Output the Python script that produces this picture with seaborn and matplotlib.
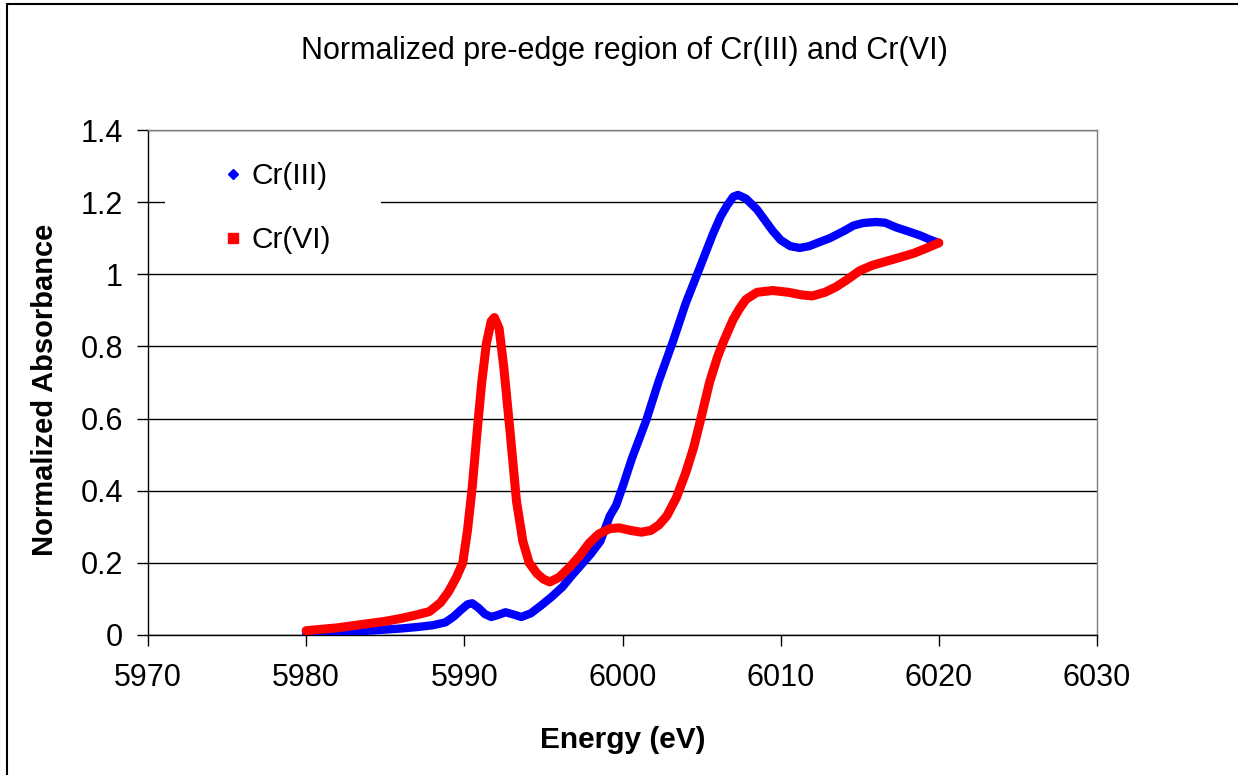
import numpy as np
import pandas as pd
import matplotlib
matplotlib.use("Agg")
import matplotlib.pyplot as plt
import seaborn as sns
from matplotlib.lines import Line2D
from matplotlib.patches import Rectangle
from matplotlib.ticker import FuncFormatter

# ---------------- data ----------------
energy_cr3 = [5980, 5982, 5984, 5985, 5986, 5987, 5988, 5988.8, 5989.3, 5989.8,
              5990.2, 5990.5, 5990.9, 5991.3, 5991.7, 5992.1, 5992.6, 5993.1, 5993.6, 5994.2,
              5994.8, 5995.5, 5996.2, 5996.8, 5997.3, 5998.0, 5998.6, 5999.2, 5999.6, 6000.0,
              6000.6, 6001.5, 6002.3, 6003.2, 6004.0, 6004.9, 6005.7, 6006.2, 6006.6, 6007.0,
              6007.3, 6007.8, 6008.5, 6009.0, 6009.5, 6010.0, 6010.6, 6011.2, 6011.8, 6012.5,
              6013.1, 6014.0, 6014.6, 6015.2, 6016.0, 6016.6, 6017.3, 6018.0, 6018.8, 6019.5,
              6020.0]
absorb_cr3 = [0.005, 0.008, 0.012, 0.015, 0.018, 0.022, 0.027, 0.035, 0.05, 0.07,
              0.085, 0.088, 0.075, 0.058, 0.05, 0.055, 0.063, 0.057, 0.05, 0.06,
              0.08, 0.105, 0.133, 0.165, 0.19, 0.225, 0.26, 0.33, 0.36, 0.41,
              0.49, 0.595, 0.705, 0.815, 0.92, 1.02, 1.11, 1.16, 1.19, 1.215,
              1.22, 1.21, 1.18, 1.15, 1.12, 1.095, 1.078, 1.073, 1.078, 1.09,
              1.10, 1.12, 1.135, 1.142, 1.145, 1.143, 1.13, 1.12, 1.108, 1.095,
              1.087]

energy_cr6 = [5980, 5981, 5982, 5983, 5984, 5985, 5986, 5987, 5987.8, 5988.5,
              5989.0, 5989.5, 5989.9, 5990.2, 5990.5, 5990.8, 5991.1, 5991.4, 5991.7, 5991.9,
              5992.2, 5992.5, 5992.9, 5993.3, 5993.7, 5994.1, 5994.6, 5995.0, 5995.4, 5996.0,
              5996.7, 5997.3, 5997.9, 5998.5, 5999.2, 5999.8, 6000.5, 6001.2, 6001.8, 6002.3,
              6002.8, 6003.4, 6004.0, 6004.5, 6004.9, 6005.2, 6005.5, 6006.0, 6006.4, 6007.0,
              6007.4, 6007.8, 6008.5, 6009.5, 6010.5, 6011.3, 6012.0, 6012.8, 6013.5, 6014.2,
              6015.0, 6015.8, 6016.6, 6017.4, 6018.4, 6019.2, 6020.0]
absorb_cr6 = [0.012, 0.016, 0.02, 0.026, 0.032, 0.038, 0.046, 0.056, 0.065, 0.09,
              0.12, 0.16, 0.2, 0.29, 0.41, 0.56, 0.70, 0.81, 0.87, 0.88,
              0.85, 0.74, 0.56, 0.37, 0.26, 0.2, 0.17, 0.155, 0.147, 0.16,
              0.19, 0.22, 0.255, 0.28, 0.295, 0.297, 0.29, 0.285, 0.29, 0.305,
              0.33, 0.38, 0.45, 0.52, 0.59, 0.645, 0.70, 0.77, 0.815, 0.875,
              0.905, 0.93, 0.95, 0.955, 0.95, 0.943, 0.94, 0.95, 0.965, 0.985,
              1.01, 1.025, 1.035, 1.045, 1.058, 1.072, 1.087]

series_labels = ["Cr(III)", "Cr(VI)"]
x_ticks = [5970, 5980, 5990, 6000, 6010, 6020, 6030]
y_ticks = [0, 0.2, 0.4, 0.6, 0.8, 1.0, 1.2, 1.4]
title_text = "Normalized pre-edge region of Cr(III) and Cr(VI)"
x_label = "Energy (eV)"
y_label = "Normalized Absorbance"

# ---------------- styling ----------------
sns.set_theme(style="white")
plt.rcParams["font.family"] = ["Liberation Sans", "DejaVu Sans"]
plt.rcParams["text.color"] = "black"
plt.rcParams["axes.labelcolor"] = "black"
plt.rcParams["xtick.color"] = "black"
plt.rcParams["ytick.color"] = "black"

W, H = 1238, 775
fig = plt.figure(figsize=(W / 100, H / 100), dpi=100)
fig.patch.set_facecolor("white")

ax = fig.add_axes([148 / W, 1 - 635 / H, 949 / W, 505 / H])

df3 = pd.DataFrame({"Energy": energy_cr3, "Abs": absorb_cr3})
df6 = pd.DataFrame({"Energy": energy_cr6, "Abs": absorb_cr6})
sns.lineplot(data=df3, x="Energy", y="Abs", color="#0000FF", lw=6.0,
             sort=False, estimator=None, ax=ax, zorder=3)
sns.lineplot(data=df6, x="Energy", y="Abs", color="#FF0000", lw=6.5,
             sort=False, estimator=None, ax=ax, zorder=4)

ax.set_xlim(5970, 6030)
ax.set_ylim(0, 1.4)
ax.set_xticks(x_ticks)
ax.set_yticks(y_ticks)
ax.yaxis.set_major_formatter(FuncFormatter(lambda v, p: f"{v:g}"))

ax.set_axisbelow(True)
ax.yaxis.grid(True, color="black", lw=1.0, zorder=0.5)
ax.xaxis.grid(False)

for side in ["left", "bottom"]:
    ax.spines[side].set_color("black")
    ax.spines[side].set_linewidth(1.0)
for side in ["top", "right"]:
    ax.spines[side].set_color("#808080")
    ax.spines[side].set_linewidth(1.0)

ax.tick_params(axis="x", direction="out", length=8, width=1, color="black",
               labelcolor="black", labelsize=22, pad=12, bottom=True)
ax.tick_params(axis="y", direction="out", length=8, width=1, color="black",
               labelcolor="black", labelsize=22, pad=10, left=True)

ax.set_xlabel(x_label, fontsize=21.5, fontweight="bold", color="black")
ax.xaxis.set_label_coords(0.5, (635 - 740) / 505)
ax.xaxis.label.set_va("center")
ax.set_ylabel(y_label, fontsize=21, fontweight="bold", color="black")
ax.yaxis.set_label_coords((45 - 148) / 949, (635 - 390) / 505)
ax.yaxis.label.set_va("center")

fig.text(624 / W, 1 - 51 / H, title_text, ha="center", va="center", fontsize=22,
         color="black")

# legend background (white box hiding the gridline)
ax.add_patch(Rectangle(((165 - 148) / 949, (635 - 270) / 505), 216 / 949, 130 / 505,
                       transform=ax.transAxes, facecolor="white", edgecolor="none",
                       zorder=1))
handles = [Line2D([], [], color="#0000FF", marker="D", linestyle="None", markersize=5.5),
           Line2D([], [], color="#FF0000", marker="s", linestyle="None", markersize=6.5)]
leg = ax.legend(handles, series_labels, loc="upper left",
                bbox_to_anchor=((218 - 148) / 949, (635 - 162) / 505),
                frameon=False, fontsize=21.5, handlelength=1.0, handletextpad=0.12,
                labelspacing=1.22, borderpad=0, borderaxespad=0, labelcolor="black")
leg.set_zorder(5)

# outer chart border
fig.add_artist(Line2D([7 / W, 7 / W], [0, 1 - 4 / H], color="black", lw=1.5,
                      transform=fig.transFigure))
fig.add_artist(Line2D([7 / W, 1], [1 - 4 / H, 1 - 4 / H], color="black", lw=1.5,
                      transform=fig.transFigure))

fig.savefig("out.png", dpi=100, facecolor="white")
